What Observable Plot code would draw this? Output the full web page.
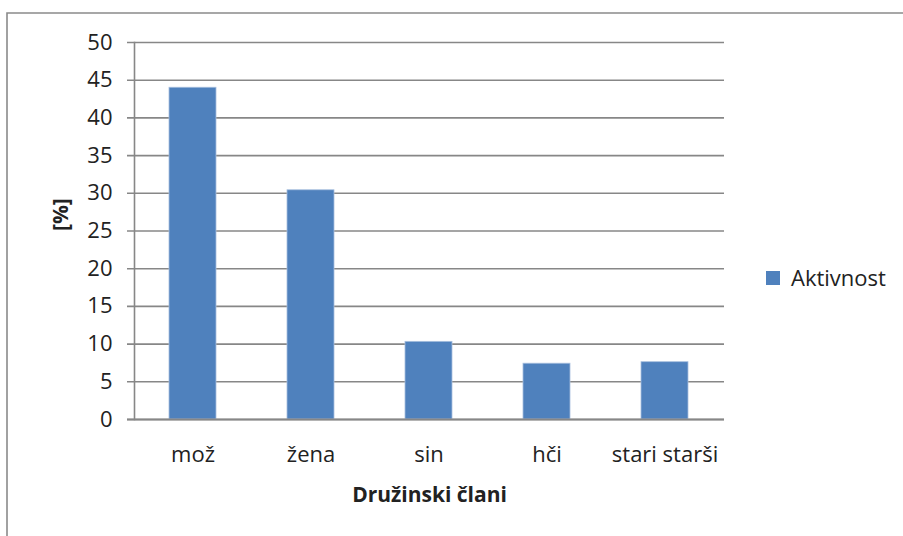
<!DOCTYPE html>
<html>
<head>
<meta charset="utf-8">
<script src="https://cdn.jsdelivr.net/npm/d3@7"></script>
<script src="https://cdn.jsdelivr.net/npm/@observablehq/plot@0.6"></script>
<style>
  html, body { margin: 0; padding: 0; background: #fff; overflow: hidden; }
  #chart svg { display: block; overflow: hidden; }
</style>
</head>
<body>
<div id="chart"></div>
<script>
const categories = ["mož", "žena", "sin", "hči", "stari starši"];
const values = [44.0, 30.4, 10.3, 7.4, 7.6];
const seriesName = "Aktivnost";
const yTicks = [0, 5, 10, 15, 20, 25, 30, 35, 40, 45, 50];
const xTitle = "Družinski člani";
const yTitle = "[%]";

const data = categories.map((c, i) => ({category: c, value: values[i]}));
const barColor = "#4F81BD";
const gridColor = "#878787";
const textColor = "#222";
const font = "'Open Sans', sans-serif";

const chart = Plot.plot({
  width: 903,
  height: 536,
  marginLeft: 134,
  marginRight: 179,
  marginTop: 42,
  marginBottom: 117,
  style: {fontFamily: font, fontSize: "22px", color: textColor, background: "#fff", overflow: "hidden"},
  x: {domain: categories, paddingInner: 0.6, paddingOuter: 0.3, label: null},
  y: {domain: [0, 50], ticks: yTicks, label: null},
  marks: [
    Plot.ruleY(yTicks, {stroke: gridColor, strokeWidth: 1.6, insetLeft: -7}),
    Plot.frame({anchor: "left", stroke: gridColor, strokeWidth: 1.6}),
    Plot.barY(data, {x: "category", y: "value", fill: barColor, stroke: "#A7BFDE", strokeWidth: 0.8}),
    Plot.ruleY([0], {stroke: gridColor, strokeWidth: 1.8, insetLeft: -7}),
    Plot.axisY({ticks: yTicks, tickSize: 0, tickPadding: 22, fontSize: 22, label: null}),
    Plot.axisX({tickSize: 0, tickPadding: 27, fontSize: 22, label: null}),
    Plot.text([xTitle], {frameAnchor: "bottom", lineAnchor: "bottom", dy: 82, fontWeight: "bold", fontSize: 21}),
    Plot.text([yTitle], {frameAnchor: "left", rotate: -90, dx: -73, fontWeight: "bold", fontSize: 21})
  ]
});

const svg = d3.select(chart);
// outer chart-area border: only its top and left edges fall inside the picture
const border = svg.insert("g", ":first-child")
  .attr("stroke", "#8a8a8a").attr("stroke-width", 1.6).attr("fill", "none");
border.append("path").attr("d", "M7,536V13H903");
// legend
const lg = svg.append("g");
lg.append("rect").attr("x", 766).attr("y", 271).attr("width", 14).attr("height", 14).attr("fill", barColor);
lg.append("text").attr("x", 791).attr("y", 285.5)
  .attr("text-anchor", "start")
  .attr("font-family", font).attr("font-size", 22).attr("fill", textColor)
  .text(seriesName);

document.getElementById("chart").appendChild(chart);
</script>
</body>
</html>
